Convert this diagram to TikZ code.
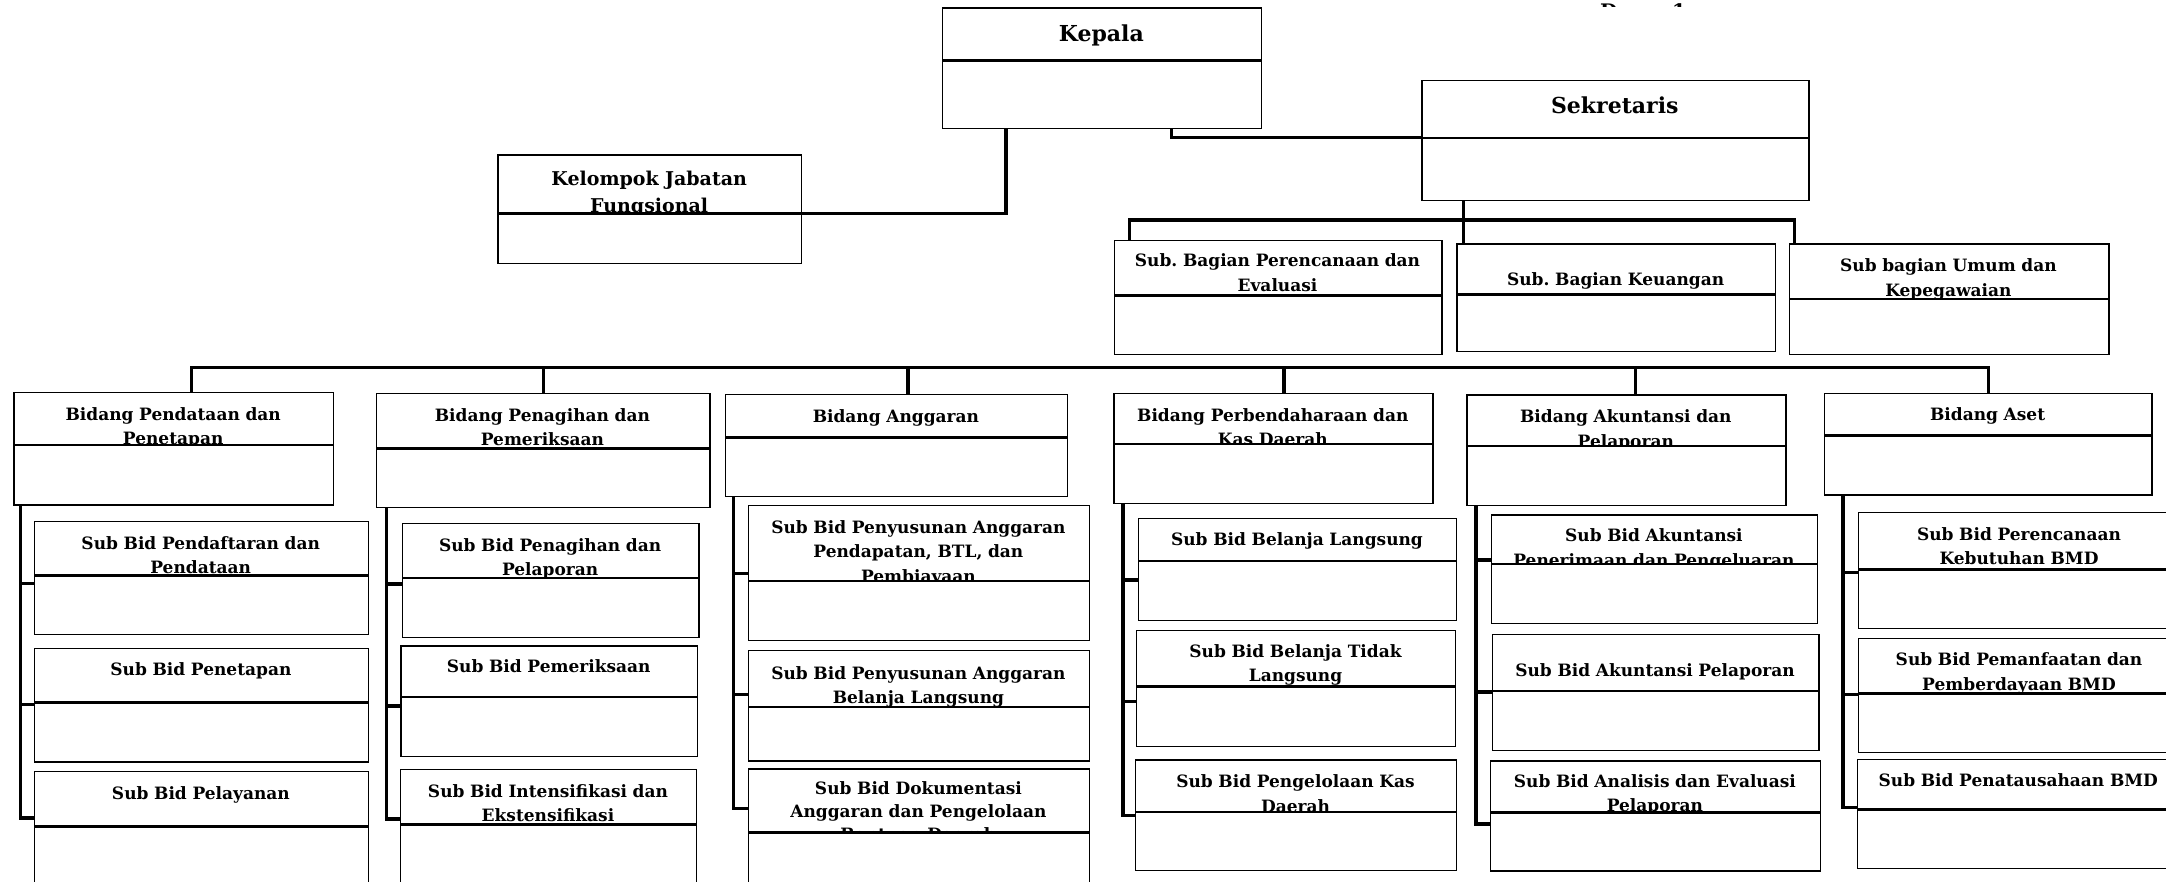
\documentclass[tikz,border=0pt]{standalone}
\usepackage{fontspec}
\setmainfont{DejaVu Serif}
\frenchspacing
\begin{document}
\begin{tikzpicture}
  [x=1pt, y=-1pt,
    box/.style={%
      rectangle, draw, fill=white, line width=1.3pt,
      anchor=north west, inner sep=0pt
    },
    lbl/.style={%
      anchor=base, align=center, inner sep=0pt, text width=340pt,
      font=\bfseries\fontsize{17}{24.5}\selectfont
    },
    big/.style={font=\bfseries\fontsize{22}{27}\selectfont},
    mid/.style={font=\bfseries\fontsize{19}{27}\selectfont},
    link/.style={line width=3.5pt},
  ]
  \useasboundingbox (0,0) rectangle (2166,881);

  % top line of the page, cut off
  \begin{scope}
    \clip (1550,0) rectangle (1750,6.5);
    \node[anchor=base west, inner sep=0pt,
      font=\bfseries\fontsize{20}{24}\selectfont] (hdr) at (1600,18) {Dasar 1};
  \end{scope}

  % pimpinan
  \node[box, minimum width=319.5, minimum height=51.7] (hkep) at (941.5,7.3) {};
  \node[lbl, big] (lkep) at (1101.3,41.7) {Kepala};
  \node[box, minimum width=319.5, minimum height=67.7] (kep) at (hkep.south west) {};

  \node[box, minimum width=386.8, minimum height=56.7] (hsek) at (1421.4,80) {};
  \node[lbl, big] (lsek) at (1614.8,113.3) {Sekretaris};
  \node[box, minimum width=386.8, minimum height=61.6] (sek) at (hsek.south west) {};

  \node[box, minimum width=303.8, minimum height=57.7] (hkjf) at (497.3,154.3) {};
  \node[lbl, mid] (lkjf) at (649.2,185.7) {Kelompok Jabatan\\Fungsional};
  \node[box, minimum width=303.8, minimum height=49.7] (kjf) at (hkjf.south west) {};

  % sekretariat
  \node[box, minimum width=327.7, minimum height=54.3] (hsbpe) at (1113.6,240) {};
  \node[lbl] (lsbpe) at (1277.5,266.7) {Sub. Bagian Perencanaan dan\\Evaluasi};
  \node[box, minimum width=327.7, minimum height=58.4] (sbpe) at (hsbpe.south west) {};

  \node[box, minimum width=318.8, minimum height=50] (hsbk) at (1456.2,243.3) {};
  \node[lbl] (lsbk) at (1615.6,285) {Sub. Bagian Keuangan};
  \node[box, minimum width=318.8, minimum height=56] (sbk) at (hsbk.south west) {};

  \node[box, minimum width=319.6, minimum height=54.4] (hsbu) at (1788.6,243.3) {};
  \node[lbl] (lsbu) at (1948.4,271.7) {Sub bagian Umum dan\\Kepegawaian};
  \node[box, minimum width=319.6, minimum height=55] (sbu) at (hsbu.south west) {};

  % bidang
  \node[box, minimum width=319.6, minimum height=51.7] (hb1) at (13.4,391.8) {};
  \node[lbl] (lb1) at (173.2,420) {Bidang Pendataan dan\\Penetapan};
  \node[box, minimum width=319.6, minimum height=59.4] (b1) at (hb1.south west) {};

  \node[box, minimum width=333.8, minimum height=54.5] (hb2) at (375.5,392.5) {};
  \node[lbl] (lb2) at (542.4,421) {Bidang Penagihan dan\\Pemeriksaan};
  \node[box, minimum width=333.8, minimum height=58.6] (b2) at (hb2.south west) {};

  \node[box, minimum width=342, minimum height=42.5] (hb3) at (724.9,393.5) {};
  \node[lbl] (lb3) at (895.9,422) {Bidang Anggaran};
  \node[box, minimum width=342, minimum height=58.6] (b3) at (hb3.south west) {};

  \node[box, minimum width=319, minimum height=50] (hb4) at (1113.3,392.8) {};
  \node[lbl] (lb4) at (1272.8,421.4) {Bidang Perbendaharaan dan\\Kas Daerah};
  \node[box, minimum width=319, minimum height=58.7] (b4) at (hb4.south west) {};

  \node[box, minimum width=319.1, minimum height=50.4] (hb5) at (1466.2,394.2) {};
  \node[lbl] (lb5) at (1625.8,422.8) {Bidang Akuntansi dan\\Pelaporan};
  \node[box, minimum width=319.1, minimum height=58.6] (b5) at (hb5.south west) {};

  \node[box, minimum width=327.2, minimum height=41.4] (hb6) at (1824,392.8) {};
  \node[lbl] (lb6) at (1987.6,420) {Bidang Aset};
  \node[box, minimum width=327.2, minimum height=58.7] (b6) at (hb6.south west) {};

  % sub bidang
  \node[box, minimum width=334.3, minimum height=53.5] (hs11) at (33.5,520.5) {};
  \node[lbl] (ls11) at (200.7,549.3) {Sub Bid Pendaftaran dan\\Pendataan};
  \node[box, minimum width=334.3, minimum height=58.6] (s11) at (hs11.south west) {};

  \node[box, minimum width=333.8, minimum height=53.2] (hs12) at (34,648.1) {};
  \node[lbl] (ls12) at (200.9,675.5) {Sub Bid Penetapan};
  \node[box, minimum width=333.8, minimum height=58.7] (s12) at (hs12.south west) {};

  \node[box, minimum width=333.8, minimum height=54.6] (hs13) at (34,770.6) {};
  \node[lbl] (ls13) at (200.9,799.7) {Sub Bid Pelayanan};
  \node[box, minimum width=333.8, minimum height=60] (s13) at (hs13.south west) {};

  \node[box, minimum width=296.5, minimum height=53.8] (hs21) at (401.8,522.9) {};
  \node[lbl] (ls21) at (550.1,551) {Sub Bid Penagihan dan\\Pelaporan};
  \node[box, minimum width=296.5, minimum height=59] (s21) at (hs21.south west) {};

  \node[box, minimum width=296.7, minimum height=50.4] (hs22) at (400.3,645.4) {};
  \node[lbl] (ls22) at (548.7,672.8) {Sub Bid Pemeriksaan};
  \node[box, minimum width=296.7, minimum height=59] (s22) at (hs22.south west) {};

  \node[box, minimum width=296, minimum height=54.4] (hs23) at (400,768.6) {};
  \node[lbl] (ls23) at (548,797) {Sub Bid Intensifikasi dan\\Ekstensifikasi};
  \node[box, minimum width=296, minimum height=62] (s23) at (hs23.south west) {};

  \node[box, minimum width=341.1, minimum height=74.5] (hs31) at (747.8,505) {};
  \node[lbl] (ls31) at (918.4,533) {Sub Bid Penyusunan Anggaran\\Pendapatan, BTL, dan\\Pembiayaan};
  \node[box, minimum width=341.1, minimum height=59] (s31) at (hs31.south west) {};

  \node[box, minimum width=341.1, minimum height=55.9] (hs32) at (747.8,649.9) {};
  \node[lbl] (ls32) at (918.4,679) {Sub Bid Penyusunan Anggaran\\Belanja Langsung};
  \node[box, minimum width=341.1, minimum height=53.1] (s32) at (hs32.south west) {};

  \node[box, minimum width=341.1, minimum height=63.2] (hs33) at (747.8,768.2) {};
  \node[lbl, font=\bfseries\fontsize{17}{23.4}\selectfont] (ls33) at (918.4,794)
    {Sub Bid Dokumentasi\\Anggaran dan Pengelolaan\\Bantuan Daerah};
  \node[box, minimum width=341.1, minimum height=60] (s33) at (hs33.south west) {};

  \node[box, minimum width=318, minimum height=41.5] (hs41) at (1138,518) {};
  \node[lbl] (ls41) at (1297,545.9) {Sub Bid Belanja Langsung};
  \node[box, minimum width=318, minimum height=59.3] (s41) at (hs41.south west) {};

  \node[box, minimum width=319, minimum height=55.5] (hs42) at (1136,629.9) {};
  \node[lbl] (ls42) at (1295.5,657.2) {Sub Bid Belanja Tidak\\Langsung};
  \node[box, minimum width=319, minimum height=59.4] (s42) at (hs42.south west) {};

  \node[box, minimum width=321, minimum height=51.4] (hs43) at (1135,759.3) {};
  \node[lbl] (ls43) at (1295.5,787.6) {Sub Bid Pengelolaan Kas\\Daerah};
  \node[box, minimum width=321, minimum height=57.9] (s43) at (hs43.south west) {};

  \node[box, minimum width=325.8, minimum height=48.3] (hs51) at (1491,514.3) {};
  \node[lbl] (ls51) at (1653.9,541.7) {Sub Bid Akuntansi\\Penerimaan dan Pengeluaran};
  \node[box, minimum width=325.8, minimum height=58.6] (s51) at (hs51.south west) {};

  \node[box, minimum width=326.7, minimum height=55.9] (hs52) at (1491.6,633.6) {};
  \node[lbl] (ls52) at (1655,676.2) {Sub Bid Akuntansi Pelaporan};
  \node[box, minimum width=326.7, minimum height=58.7] (s52) at (hs52.south west) {};

  \node[box, minimum width=329.7, minimum height=51.1] (hs53) at (1490,760.3) {};
  \node[lbl] (ls53) at (1654.9,787.2) {Sub Bid Analisis dan Evaluasi\\Pelaporan};
  \node[box, minimum width=329.7, minimum height=57.6] (s53) at (hs53.south west) {};

  \node[box, minimum width=322, minimum height=56.2] (hs61) at (1858,511.8) {};
  \node[lbl] (ls61) at (2019,540) {Sub Bid Perencanaan\\Kebutuhan BMD};
  \node[box, minimum width=322, minimum height=58.7] (s61) at (hs61.south west) {};

  \node[box, minimum width=322, minimum height=53.9] (hs62) at (1858,638.1) {};
  \node[lbl] (ls62) at (2019,665.9) {Sub Bid Pemanfaatan dan\\Pemberdayaan BMD};
  \node[box, minimum width=322, minimum height=58.3] (s62) at (hs62.south west) {};

  \node[box, minimum width=323.5, minimum height=49.4] (hs63) at (1856.5,758.9) {};
  \node[lbl] (ls63) at (2018.3,786.6) {Sub Bid Penatausahaan BMD};
  \node[box, minimum width=323.5, minimum height=58.3] (s63) at (hs63.south west) {};

  % garis kepala
  \coordinate (k1) at (1006,213.3);
  \coordinate (k2) at (1171.5,137.3);
  \draw[link] (k1 |- kep.south) -- (k1) -- (k1 -| hkjf.east);
  \draw[link] (k2 |- kep.south) -- (k2) -- (k2 -| hsek.west);

  % garis sekretaris
  \coordinate (q0) at (1463.5,220);
  \coordinate (q1) at (1129.3,220);
  \coordinate (q2) at (1794.3,220);
  \draw[link] (q0 |- sek.south) -- (q0) -- (q0 |- hsbk.north);
  \draw[link] (q1 |- hsbpe.north) -- (q1) -- (q2) -- (q2 |- hsbu.north);

  % garis bidang
  \coordinate (d1) at (191.3,367.6);
  \coordinate (d2) at (543.4,367.6);
  \coordinate (d3) at (908,367.6);
  \coordinate (d4) at (1284,367.6);
  \coordinate (d5) at (1635.5,367.6);
  \coordinate (d6) at (1988.5,367.6);
  \draw[link] (d1 |- hb1.north) -- (d1) -- (d6) -- (d6 |- hb6.north);
  \foreach \i in {2,...,5}
    \draw[link] (d\i) -- (d\i |- hb\i.north);

  % garis sub bidang
  \foreach \c/\x/\ya/\yb/\yc in {1/20.6/583.3/704.7/818, 2/386.5/584/705.8/819,
      3/733.5/573.6/694.4/808.3, 4/1122.8/579.8/701.6/815.5,
      5/1475.8/560.2/692/824, 6/1843.1/572.6/694.7/807.6}{
    \coordinate (u\c) at (\x,\ya);
    \coordinate (v\c) at (\x,\yb);
    \coordinate (w\c) at (\x,\yc);
    \draw[link] (u\c |- b\c.south) -- (w\c) -- (w\c -| hs\c3.west);
    \draw[link] (u\c) -- (u\c -| hs\c1.west);
    \draw[link] (v\c) -- (v\c -| hs\c2.west);
  }

\end{tikzpicture}
\end{document}
